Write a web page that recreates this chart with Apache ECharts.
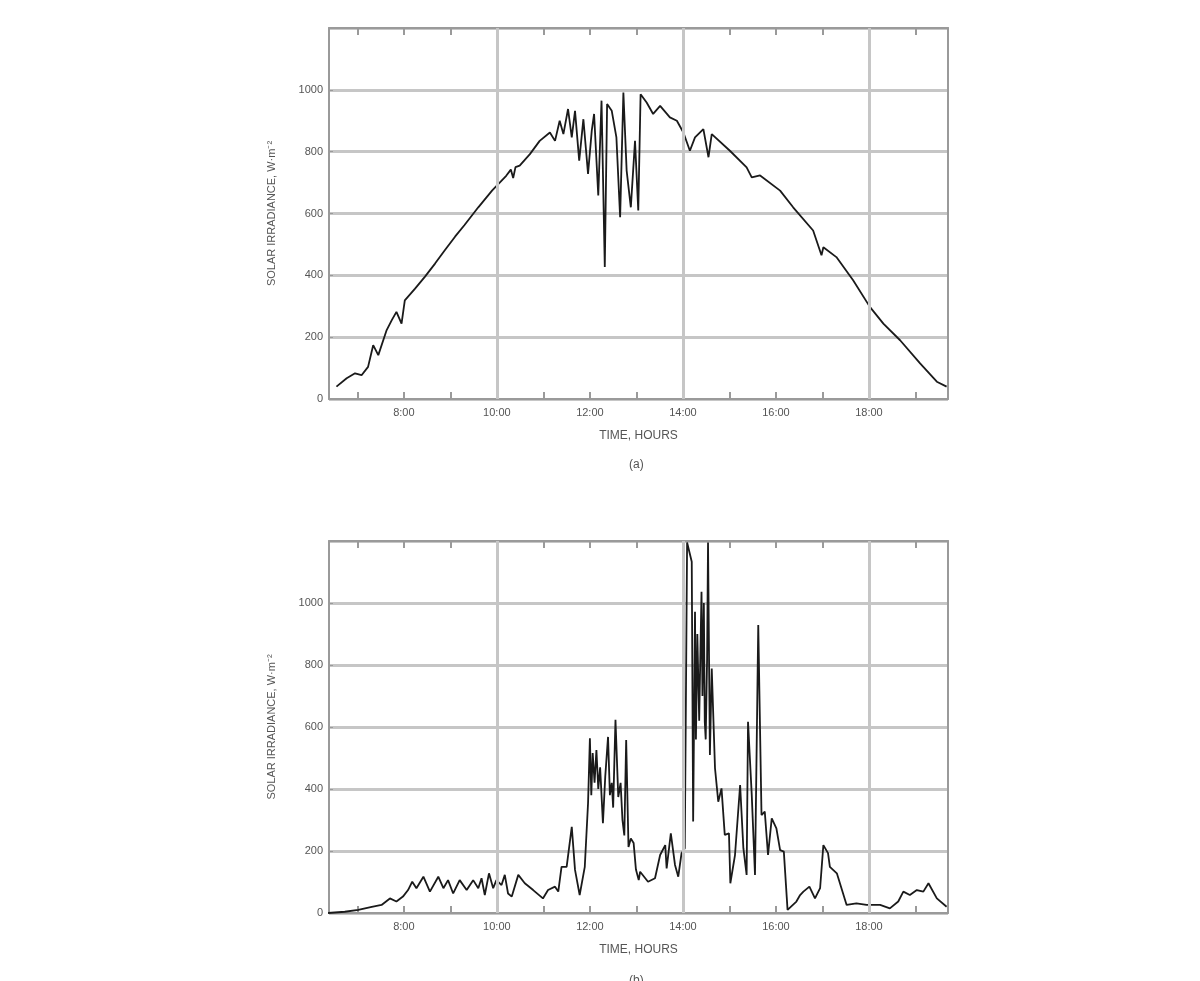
<!DOCTYPE html>
<html>
<head>
<meta charset="utf-8">
<script src="https://cdn.jsdelivr.net/npm/echarts@6/dist/echarts.min.js"></script>
<style>
html,body{margin:0;padding:0;background:#fff;}
#chart{width:1200px;height:981px;}
</style>
</head>
<body>
<div id="chart"></div>
<script>
// ---- data (hours of day, W/m^2) ----
const topHours = [6.55,6.77,6.95,7.09,7.23,7.34,7.45,7.63,7.74,7.84,7.95,8.02,8.24,8.45,8.67,8.88,9.10,9.30,9.60,9.90,10.20,10.30,10.35,10.40,10.49,10.71,10.92,11.14,11.25,11.35,11.43,11.53,11.61,11.68,11.77,11.86,11.96,12.04,12.09,12.18,12.25,12.32,12.37,12.47,12.57,12.65,12.72,12.79,12.88,12.97,13.04,13.09,13.22,13.36,13.51,13.72,13.87,14.01,14.15,14.26,14.44,14.55,14.62,15.01,15.37,15.48,15.66,16.09,16.37,16.80,16.98,17.02,17.30,17.66,18.02,18.31,18.67,19.10,19.46,19.67];
const topValues = [40,67,83,77,104,174,142,223,255,282,244,319,357,395,438,481,525,562,620,675,722,742,715,750,755,792,835,862,835,900,857,938,846,932,771,905,728,868,922,658,965,427,954,932,846,588,991,739,620,835,610,986,959,922,948,911,900,862,803,846,873,782,857,803,749,717,723,674,620,545,465,491,459,384,298,244,190,115,56,40];

const bottomHours = [6.37,6.73,7.02,7.31,7.52,7.70,7.84,7.98,8.09,8.18,8.27,8.42,8.56,8.74,8.85,8.95,9.06,9.20,9.35,9.49,9.60,9.67,9.74,9.83,9.92,9.99,10.10,10.17,10.24,10.32,10.46,10.60,10.78,10.99,11.10,11.25,11.32,11.39,11.50,11.61,11.68,11.78,11.89,11.96,12.00,12.03,12.06,12.10,12.14,12.18,12.22,12.28,12.33,12.39,12.43,12.47,12.50,12.55,12.61,12.66,12.70,12.74,12.78,12.83,12.88,12.94,12.99,13.05,13.08,13.25,13.40,13.51,13.62,13.65,13.74,13.83,13.90,13.97,14.04,14.09,14.19,14.22,14.26,14.28,14.31,14.35,14.37,14.40,14.42,14.45,14.47,14.49,14.52,14.54,14.58,14.62,14.69,14.76,14.83,14.90,14.99,15.02,15.12,15.23,15.30,15.37,15.40,15.48,15.55,15.62,15.69,15.76,15.83,15.91,16.01,16.09,16.17,16.25,16.44,16.52,16.59,16.72,16.84,16.95,17.02,17.12,17.16,17.31,17.52,17.73,17.95,18.24,18.45,18.63,18.74,18.88,19.03,19.17,19.28,19.46,19.67];
const bottomValues = [0,4,10,20,26,47,37,53,74,101,80,117,69,117,80,106,63,106,74,106,80,112,58,128,80,106,90,123,63,53,123,96,74,47,74,85,69,149,149,278,139,58,149,354,564,380,516,420,526,400,470,290,440,568,380,420,340,623,374,420,300,250,558,213,240,226,140,106,133,101,112,187,219,144,257,155,117,192,209,1195,1133,295,972,560,900,620,789,1036,700,1000,617,560,820,1195,510,789,467,359,402,252,257,96,187,413,209,123,617,381,123,929,316,327,187,305,273,203,198,10,37,58,69,85,47,80,219,193,149,128,26,31,26,26,15,37,69,58,74,69,96,47,20];

const xMin = 6.39, xMax = 19.7;
const xTickHours = [7,8,9,10,11,12,13,14,15,16,17,18,19];
const xLabelHours = [8,10,12,14,16,18];
const vGridHours = [10,14,18];
const yMin = 0, yMax = 1200, yStep = 200;

const yName = 'SOLAR IRRADIANCE, W\u00B7m\u207B\u00B2';
const xName = 'TIME, HOURS';
const captions = ['(a)', '(b)'];

// ---- styling ----
const txt = '#555555';
const font = 'Liberation Sans, Arial, sans-serif';
const gridCol = '#c6c6c6';
const borderCol = '#9a9a9a';

function pairs(h, v){ return h.map((x,i)=>[x, v[i]]); }

const grids = [
  {left:329, width:619, top:28, height:371},
  {left:329, width:619, top:541, height:372}
];

function xAxes(gi){
  return [
    {
      type:'value', gridIndex:gi, position:'bottom', min:xMin, max:xMax,
      name:xName, nameLocation:'middle', nameGap:31,
      nameTextStyle:{color:txt, fontSize:12, fontFamily:font},
      axisLine:{show:true, onZero:false, lineStyle:{color:borderCol, width:2}},
      axisTick:{show:true, inside:true, length:7, customValues:xTickHours, lineStyle:{color:borderCol, width:2}},
      axisLabel:{show:true, customValues:xLabelHours, color:txt, fontSize:11, fontFamily:font, margin:8,
        formatter:(v)=>Math.round(v)+':00'},
      splitLine:{show:false}
    },
    {
      type:'value', gridIndex:gi, position:'top', min:xMin, max:xMax,
      axisLine:{show:true, onZero:false, lineStyle:{color:borderCol, width:2}},
      axisTick:{show:true, inside:true, length:7, customValues:xTickHours, lineStyle:{color:borderCol, width:2}},
      axisLabel:{show:false},
      splitLine:{show:false}
    }
  ];
}

function yAxes(gi){
  return [
    {
      type:'value', gridIndex:gi, position:'left', min:yMin, max:yMax, interval:yStep,
      name:yName, nameLocation:'middle', nameGap:52,
      nameTextStyle:{color:txt, fontSize:11, fontFamily:font},
      axisLine:{show:true, onZero:false, lineStyle:{color:borderCol, width:2}},
      axisTick:{show:true, inside:true, length:4, lineStyle:{color:borderCol}},
      axisLabel:{color:txt, fontSize:11, fontFamily:font, margin:6,
        formatter:(v)=> v===yMax ? '' : String(v)},
      splitLine:{show:true, lineStyle:{color:gridCol, width:3}}
    },
    {
      type:'value', gridIndex:gi, position:'right', min:yMin, max:yMax, interval:yStep,
      axisLine:{show:true, onZero:false, lineStyle:{color:borderCol, width:2}},
      axisTick:{show:false}, axisLabel:{show:false}, splitLine:{show:false}
    }
  ];
}

function lineSeries(gi, h, v){
  return {
    type:'line', xAxisIndex:gi*2, yAxisIndex:gi*2, data:pairs(h,v),
    showSymbol:false, clip:true, animation:false,
    lineStyle:{color:'#1a1a1a', width:1.8},
    markLine:{
      silent:true, symbol:['none','none'], animation:false,
      label:{show:false},
      lineStyle:{color:gridCol, width:3, type:'solid'},
      data: vGridHours.map(x=>({xAxis:x}))
    },
    z:3
  };
}

const option = {
  backgroundColor:'#ffffff',
  animation:false,
  title:[
    {text:captions[0], left:624, top:454, textStyle:{color:txt, fontSize:12, fontWeight:'normal', fontFamily:font}},
    {text:captions[1], left:624, top:970, textStyle:{color:txt, fontSize:12, fontWeight:'normal', fontFamily:font}}
  ],
  grid:grids,
  xAxis:[...xAxes(0), ...xAxes(1)],
  yAxis:[...yAxes(0), ...yAxes(1)],
  series:[
    lineSeries(0, topHours, topValues),
    lineSeries(1, bottomHours, bottomValues)
  ]
};

const chart = echarts.init(document.getElementById('chart'), null, {renderer:'canvas'});
chart.setOption(option);
</script>
</body>
</html>
